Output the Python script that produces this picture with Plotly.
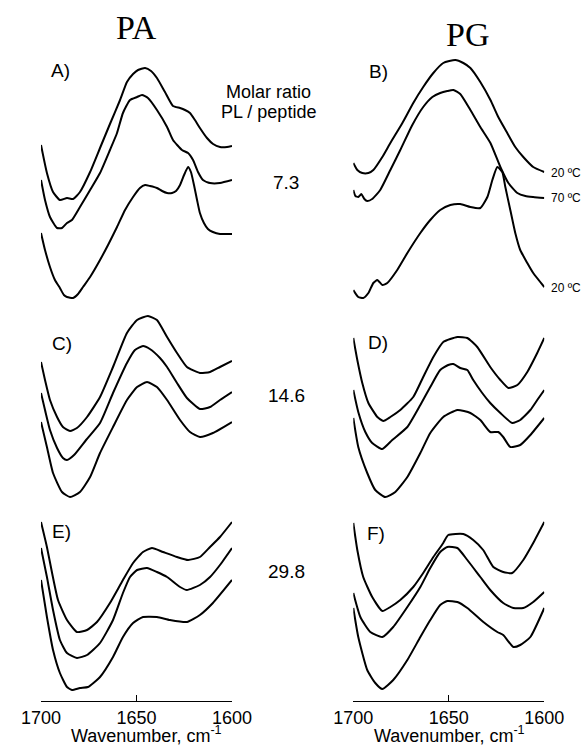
import plotly.graph_objects as go

# ---------------- data (wavenumber cm-1, stacked absorbance a.u.) ----------------
# Panel A (PA, molar ratio 7.3)
wn_A1 = [1700, 1696.9, 1693.7, 1690.1, 1686.4, 1683.2, 1679.6, 1674.3, 1669.1, 1663.9, 1658.6, 1655.0, 1651.8, 1649.2, 1645.5, 1642.4, 1639.3, 1635.1, 1630.9, 1627.2, 1624.6, 1622.0, 1619.4, 1616.8, 1613.1, 1609.9, 1606.3, 1602.6, 1600]
ab_A1 = [5.56, 5.28, 5.09, 5.01, 5.03, 5.02, 5.09, 5.29, 5.53, 5.77, 6.01, 6.19, 6.27, 6.31, 6.33, 6.30, 6.23, 6.09, 5.95, 5.93, 5.91, 5.88, 5.81, 5.73, 5.63, 5.57, 5.54, 5.54, 5.55]
wn_A2 = [1700, 1697.9, 1695.3, 1691.6, 1689.0, 1686.4, 1683.8, 1679.6, 1674.3, 1669.1, 1663.9, 1660.2, 1657.1, 1653.4, 1649.7, 1647.1, 1644.0, 1639.3, 1634.0, 1630.9, 1626.2, 1623.0, 1620.4, 1617.8, 1615.2, 1611.5, 1606.3, 1600]
ab_A2 = [5.21, 5.01, 4.84, 4.73, 4.73, 4.78, 4.81, 4.94, 5.11, 5.28, 5.51, 5.68, 5.88, 6.01, 6.04, 6.06, 6.03, 5.91, 5.74, 5.61, 5.51, 5.48, 5.41, 5.29, 5.21, 5.18, 5.18, 5.21]
wn_A3 = [1700, 1697.9, 1695.3, 1692.7, 1690.1, 1688.0, 1686.4, 1683.2, 1680.6, 1678.0, 1674.3, 1669.1, 1664.9, 1660.2, 1656.0, 1651.8, 1648.2, 1645.5, 1642.9, 1639.3, 1636.6, 1634.0, 1631.4, 1629.3, 1627.2, 1625.1, 1623.0, 1621.5, 1619.9, 1618.3, 1616.8, 1614.7, 1612.6, 1610.0, 1606.3, 1602.6, 1600]
ab_A3 = [4.68, 4.51, 4.34, 4.21, 4.13, 4.06, 4.04, 4.03, 4.07, 4.14, 4.24, 4.41, 4.56, 4.74, 4.91, 5.04, 5.13, 5.16, 5.15, 5.13, 5.10, 5.08, 5.08, 5.10, 5.16, 5.26, 5.34, 5.29, 5.16, 5.01, 4.88, 4.78, 4.72, 4.69, 4.67, 4.67, 4.67]

# Panel B (PG, molar ratio 7.3)
wn_B1 = [1700, 1697.9, 1695.3, 1692.1, 1689.5, 1684.8, 1680.6, 1674.3, 1668.6, 1663.4, 1658.1, 1652.9, 1646.6, 1642.4, 1638.7, 1633.5, 1628.2, 1624.1, 1619.4, 1615.2, 1611.0, 1605.8, 1600]
ab_B1 = [5.38, 5.31, 5.28, 5.28, 5.31, 5.44, 5.58, 5.78, 5.98, 6.14, 6.28, 6.38, 6.41, 6.38, 6.33, 6.19, 6.01, 5.84, 5.68, 5.54, 5.44, 5.34, 5.29]
wn_B2 = [1700, 1698.9, 1697.4, 1695.8, 1694.2, 1692.7, 1690.1, 1685.9, 1680.6, 1675.4, 1669.1, 1663.4, 1658.6, 1654.5, 1650.8, 1647.6, 1644.0, 1638.7, 1633.5, 1628.2, 1623.0, 1618.8, 1614.1, 1609.9, 1605.8, 1600]
ab_B2 = [5.11, 5.05, 5.04, 5.07, 5.02, 5.00, 5.02, 5.11, 5.31, 5.51, 5.76, 5.94, 6.04, 6.08, 6.10, 6.11, 6.07, 5.91, 5.74, 5.58, 5.34, 5.18, 5.08, 5.05, 5.04, 5.03]
wn_B3 = [1700, 1697.4, 1694.8, 1692.1, 1689.5, 1687.4, 1684.8, 1682.2, 1677.0, 1671.7, 1664.9, 1659.7, 1654.5, 1649.2, 1644.0, 1638.7, 1633.5, 1629.8, 1627.2, 1624.6, 1622.0, 1620.4, 1617.8, 1615.2, 1612.6, 1608.9, 1605.8, 1600]
ab_B3 = [4.11, 4.04, 4.03, 4.08, 4.18, 4.21, 4.16, 4.18, 4.31, 4.48, 4.68, 4.81, 4.91, 4.96, 4.97, 4.94, 4.93, 5.04, 5.21, 5.34, 5.29, 5.14, 4.91, 4.68, 4.51, 4.38, 4.28, 4.14]

# Panel C (PA, molar ratio 14.6)
wn_C1 = [1700, 1697.9, 1695.3, 1691.6, 1688.5, 1684.8, 1681.2, 1675.9, 1669.1, 1662.3, 1655.0, 1649.7, 1644.0, 1639.3, 1634.0, 1628.8, 1623.6, 1616.8, 1611.5, 1606.3, 1600]
ab_C1 = [3.39, 3.21, 3.01, 2.84, 2.74, 2.70, 2.73, 2.84, 3.04, 3.34, 3.68, 3.81, 3.85, 3.81, 3.64, 3.48, 3.34, 3.28, 3.29, 3.34, 3.40]
wn_C2 = [1700, 1697.9, 1695.3, 1691.6, 1688.5, 1686.4, 1682.7, 1676.4, 1669.1, 1662.3, 1655.0, 1650.8, 1646.6, 1643.0, 1637.7, 1634.0, 1628.8, 1623.6, 1616.8, 1611.5, 1606.3, 1600]
ab_C2 = [3.08, 2.91, 2.71, 2.53, 2.43, 2.41, 2.46, 2.61, 2.78, 3.08, 3.38, 3.51, 3.55, 3.52, 3.43, 3.34, 3.18, 3.03, 2.92, 2.94, 3.01, 3.09]
wn_C3 = [1700, 1696.9, 1693.7, 1689.0, 1684.8, 1679.6, 1674.3, 1669.1, 1662.3, 1655.0, 1649.7, 1644.5, 1639.3, 1634.0, 1627.2, 1622.0, 1616.8, 1610.0, 1600]
ab_C3 = [2.79, 2.54, 2.28, 2.09, 2.04, 2.09, 2.24, 2.48, 2.74, 3.01, 3.14, 3.19, 3.14, 3.01, 2.81, 2.69, 2.64, 2.68, 2.79]

# Panel D (PG, molar ratio 14.6)
wn_D1 = [1700, 1697.9, 1695.3, 1692.1, 1687.4, 1684.3, 1680.6, 1675.4, 1668.6, 1663.4, 1658.1, 1652.9, 1645.5, 1640.3, 1635.1, 1628.3, 1623.0, 1618.8, 1614.1, 1608.9, 1603.7, 1600]
ab_D1 = [3.63, 3.41, 3.18, 2.98, 2.84, 2.80, 2.84, 2.91, 3.04, 3.24, 3.44, 3.59, 3.64, 3.63, 3.54, 3.34, 3.21, 3.13, 3.16, 3.29, 3.48, 3.63]
wn_D2 = [1700, 1697.4, 1693.7, 1690.1, 1684.8, 1679.6, 1671.7, 1664.9, 1659.7, 1654.5, 1650.3, 1647.6, 1644.0, 1640.3, 1637.2, 1632.5, 1628.3, 1623.0, 1616.8, 1612.6, 1607.3, 1603.7, 1600]
ab_D2 = [3.11, 2.89, 2.69, 2.58, 2.52, 2.61, 2.74, 2.96, 3.14, 3.31, 3.36, 3.37, 3.33, 3.31, 3.21, 3.08, 2.98, 2.88, 2.78, 2.81, 2.91, 3.01, 3.11]
wn_D3 = [1700, 1697.4, 1692.7, 1688.5, 1683.3, 1678.0, 1671.7, 1664.9, 1659.7, 1652.9, 1645.5, 1638.7, 1633.5, 1628.3, 1624.1, 1621.5, 1617.8, 1612.6, 1607.3, 1600]
ab_D3 = [2.83, 2.54, 2.28, 2.11, 2.04, 2.09, 2.24, 2.48, 2.68, 2.84, 2.91, 2.88, 2.81, 2.69, 2.69, 2.64, 2.54, 2.56, 2.66, 2.83]

# Panel E (PA, molar ratio 29.8)
wn_E1 = [1700, 1696.9, 1694.2, 1691.1, 1686.4, 1681.2, 1675.9, 1670.7, 1663.9, 1657.1, 1651.8, 1646.6, 1641.9, 1636.1, 1628.8, 1623.0, 1616.8, 1611.5, 1606.3, 1600]
ab_E1 = [1.79, 1.54, 1.28, 1.01, 0.81, 0.69, 0.71, 0.79, 0.98, 1.21, 1.38, 1.49, 1.53, 1.49, 1.44, 1.41, 1.44, 1.54, 1.64, 1.79]
wn_E2 = [1700, 1696.9, 1693.7, 1690.1, 1686.4, 1681.2, 1675.9, 1669.1, 1662.3, 1657.1, 1653.4, 1649.7, 1644.5, 1639.3, 1634.0, 1627.2, 1623.6, 1616.8, 1611.5, 1606.3, 1600]
ab_E2 = [1.53, 1.24, 0.91, 0.61, 0.48, 0.43, 0.46, 0.58, 0.81, 1.08, 1.24, 1.31, 1.33, 1.29, 1.24, 1.14, 1.11, 1.16, 1.24, 1.36, 1.53]
wn_E3 = [1700, 1696.9, 1693.7, 1690.1, 1686.4, 1683.8, 1679.6, 1675.4, 1669.1, 1662.3, 1657.1, 1651.8, 1646.6, 1639.3, 1632.5, 1623.6, 1616.8, 1610.0, 1600]
ab_E3 = [1.21, 0.84, 0.51, 0.28, 0.14, 0.11, 0.13, 0.14, 0.24, 0.44, 0.64, 0.78, 0.84, 0.84, 0.81, 0.79, 0.86, 0.98, 1.21]

# Panel F (PG, molar ratio 29.8)
wn_F1 = [1700, 1697.9, 1694.8, 1690.1, 1684.8, 1680.6, 1675.4, 1668.6, 1663.4, 1658.1, 1652.9, 1650.3, 1642.4, 1637.2, 1632.0, 1626.7, 1621.5, 1616.8, 1611.0, 1605.8, 1600]
ab_F1 = [1.78, 1.51, 1.24, 1.04, 0.90, 0.94, 1.01, 1.14, 1.28, 1.44, 1.58, 1.66, 1.67, 1.61, 1.51, 1.34, 1.29, 1.28, 1.41, 1.58, 1.79]
wn_F2 = [1700, 1696.3, 1691.1, 1684.8, 1679.1, 1671.7, 1664.9, 1659.7, 1654.5, 1650.8, 1645.5, 1640.3, 1633.5, 1628.3, 1621.5, 1616.2, 1611.0, 1605.8, 1600]
ab_F2 = [1.08, 0.84, 0.69, 0.64, 0.74, 0.94, 1.14, 1.33, 1.49, 1.54, 1.53, 1.41, 1.24, 1.11, 0.98, 0.93, 0.93, 0.99, 1.09]
wn_F3 = [1700, 1697.4, 1692.7, 1688.5, 1684.8, 1679.1, 1671.7, 1664.9, 1659.7, 1654.5, 1650.8, 1645.5, 1640.3, 1631.9, 1624.6, 1621.5, 1616.2, 1612.6, 1607.3, 1600]
ab_F3 = [0.93, 0.64, 0.31, 0.18, 0.12, 0.21, 0.41, 0.64, 0.81, 0.96, 1.00, 0.99, 0.93, 0.79, 0.69, 0.66, 0.54, 0.56, 0.64, 0.93]

column_titles = ["PA", "PG"]
panel_labels = ["A)", "B)", "C)", "D)", "E)", "F)"]
molar_ratios = ["7.3", "14.6", "29.8"]
temp_labels = ["20 ºC", "70 ºC", "20 ºC"]
tick_vals = [1700, 1650, 1600]

# ---------------- figure ----------------
W, H = 586, 747
fig = go.Figure()

left_curves = [(wn_A1, ab_A1), (wn_A2, ab_A2), (wn_A3, ab_A3),
               (wn_C1, ab_C1), (wn_C2, ab_C2), (wn_C3, ab_C3),
               (wn_E1, ab_E1), (wn_E2, ab_E2), (wn_E3, ab_E3)]
right_curves = [(wn_B1, ab_B1), (wn_B2, ab_B2), (wn_B3, ab_B3),
                (wn_D1, ab_D1), (wn_D2, ab_D2), (wn_D3, ab_D3),
                (wn_F1, ab_F1), (wn_F2, ab_F2), (wn_F3, ab_F3)]

line_style = dict(color="black", width=2, shape="spline", smoothing=0.5)
for xs, ys in left_curves:
    fig.add_trace(go.Scatter(x=xs, y=ys, mode="lines", line=line_style,
                             xaxis="x", yaxis="y", hoverinfo="skip"))
for xs, ys in right_curves:
    fig.add_trace(go.Scatter(x=xs, y=ys, mode="lines", line=line_style,
                             xaxis="x2", yaxis="y", hoverinfo="skip"))

def px(x):
    return x / W

def py(y):
    return 1 - y / H

axis_common = dict(range=[1700, 1600], tickvals=tick_vals, ticks="inside",
                   ticklen=6, tickwidth=1, tickcolor="black",
                   showline=True, linecolor="black", linewidth=1.2,
                   showgrid=False, zeroline=False, automargin=False,
                   tickfont=dict(family="Liberation Sans, Arial", size=18, color="black"),
                   anchor="y")

fig.update_layout(
    width=W, height=H,
    margin=dict(l=0, r=0, t=0, b=0),
    paper_bgcolor="white", plot_bgcolor="white",
    showlegend=False,
    xaxis=dict(domain=[px(41), px(232)], **axis_common),
    xaxis2=dict(domain=[px(353.3), px(544.3)], **axis_common),
    yaxis=dict(domain=[py(701), 1.0], range=[0, 7.01], visible=False, fixedrange=True),
)

sans = "Liberation Sans, Arial"
serif = "Liberation Serif, Times New Roman"
ann = []
# column titles
ann.append(dict(text=column_titles[0], x=px(136), y=py(27), font=dict(family=serif, size=34)))
ann.append(dict(text=column_titles[1], x=px(467), y=py(34), font=dict(family=serif, size=34)))
# panel labels
for lab, (cx, cy) in zip(panel_labels, [(60, 71), (378, 72), (62, 344), (378, 343), (61, 531), (376, 533)]):
    ann.append(dict(text=lab, x=px(cx), y=py(cy), font=dict(family=sans, size=19)))
# molar ratio header
ann.append(dict(text="Molar ratio", x=px(268), y=py(92), font=dict(family=sans, size=18)))
ann.append(dict(text="PL / peptide", x=px(268), y=py(112), font=dict(family=sans, size=18)))
for r, cy in zip(molar_ratios, [183, 395, 571]):
    ann.append(dict(text=r, x=px(286), y=py(cy), font=dict(family=sans, size=19)))
# temperature labels
for t, cy in zip(temp_labels, [173, 198, 288]):
    ann.append(dict(text=t, x=px(549), y=py(cy), xanchor="left", font=dict(family=sans, size=12)))

for a in ann:
    a.setdefault("xanchor", "center")
    a["yanchor"] = "middle"
    a["xref"] = "paper"
    a["yref"] = "paper"
    a["showarrow"] = False
    a["font"]["color"] = "black"
# axis titles
for cx in [146, 449]:
    ann.append(dict(text="Wavenumber, cm<sup>-1</sup>", x=px(cx), y=0, xref="paper", yref="paper",
                    xanchor="center", yanchor="bottom", showarrow=False, borderpad=0,
                    font=dict(family=sans, size=18, color="black")))
fig.update_layout(annotations=ann)

fig.write_html("out.html", config={"displayModeBar": False},
               post_script="document.body.style.margin='0';document.body.style.overflow='hidden';")
